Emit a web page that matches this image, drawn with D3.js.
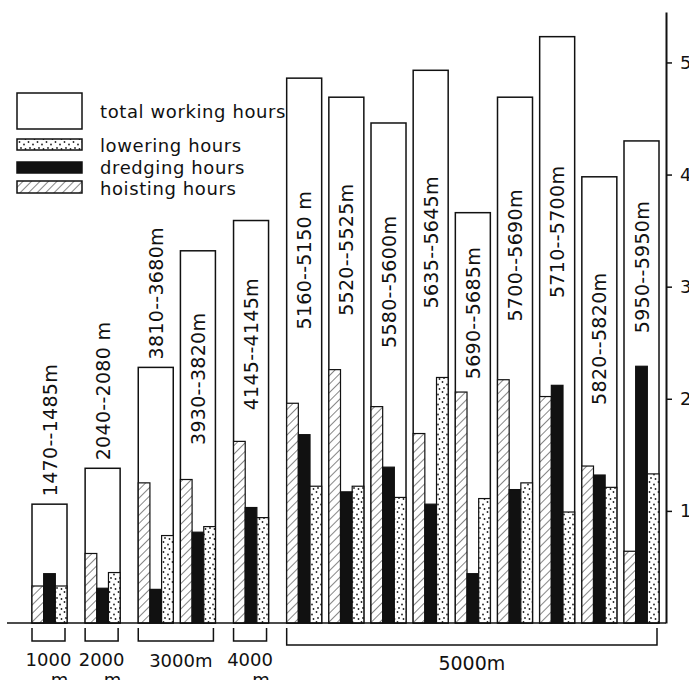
<!DOCTYPE html>
<html>
<head>
<meta charset="utf-8">
<script src="https://cdn.jsdelivr.net/npm/d3@7"></script>
<style>
  body { margin: 0; background: #fff; }
  svg text { font-family: "DejaVu Sans", sans-serif; fill: #111; }
</style>
</head>
<body>
<div id="chart"></div>
<script>
// depth intervals of each trip
const tripLabels = ["1470--1485m", "2040--2080 m", "3810--3680m", "3930--3820m", "4145--4145m",
  "5160--5150 m", "5520--5525m", "5580--5600m", "5635--5645m", "5690--5685m",
  "5700--5690m", "5710--5700m", "5820--5820m", "5950--5950m"];
const depthGroup = [0, 1, 2, 2, 3, 4, 4, 4, 4, 4, 4, 4, 4, 4];
const depthLabels = ["1000", "2000", "3000m", "4000", "5000m"];
const depthUnitBelow = [true, true, false, true, false];

// hours
const totalHours    = [1.06, 1.38, 2.28, 3.32, 3.59, 4.86, 4.69, 4.46, 4.93, 3.66, 4.69, 5.23, 3.98, 4.30];
const hoistingHours = [0.33, 0.62, 1.25, 1.28, 1.62, 1.96, 2.26, 1.93, 1.69, 2.06, 2.17, 2.02, 1.40, 0.64];
const dredgingHours = [0.44, 0.31, 0.30, 0.81, 1.03, 1.68, 1.17, 1.39, 1.06, 0.44, 1.19, 2.12, 1.32, 2.29];
const loweringHours = [0.33, 0.45, 0.78, 0.86, 0.94, 1.22, 1.22, 1.12, 2.19, 1.11, 1.25, 0.99, 1.21, 1.33];
const yTicks = [1, 2, 3, 4, 5];

const W = 689, H = 680;
const svg = d3.select("#chart").append("svg")
  .attr("width", W).attr("height", H);

const defs = svg.append("defs");
// hatch for hoisting
const hatch = defs.append("pattern").attr("id", "hatch")
  .attr("patternUnits", "userSpaceOnUse").attr("width", 6).attr("height", 6)
  .attr("patternTransform", "rotate(45)");
hatch.append("rect").attr("width", 6).attr("height", 6).attr("fill", "#fff");
hatch.append("line").attr("x1", 0).attr("y1", 0).attr("x2", 0).attr("y2", 6)
  .attr("stroke", "#222").attr("stroke-width", 1.1);
// stipple for lowering
const dots = defs.append("pattern").attr("id", "dots")
  .attr("patternUnits", "userSpaceOnUse").attr("width", 9).attr("height", 10);
dots.append("rect").attr("width", 9).attr("height", 10).attr("fill", "#fff");
[[1.5, 2], [6, 4.5], [3, 8], [7.5, 9]].forEach(p => {
  dots.append("circle").attr("cx", p[0]).attr("cy", p[1]).attr("r", 0.9).attr("fill", "#222");
});

// x: bar index plus an extra gap whenever the depth group changes
const gapRatio = 0.26;
const slotPos = depthGroup.map((g, i) => i + g * gapRatio);
const x = d3.scaleLinear()
  .domain([0, slotPos[slotPos.length - 1]])
  .range([32, 624]);
const barW = 35;

const y = d3.scaleLinear().domain([0, 5.45]).range([623, 12]);

const data = tripLabels.map((label, i) => ({
  label, i,
  total: totalHours[i],
  subs: [
    {v: hoistingHours[i], fill: "url(#hatch)"},
    {v: dredgingHours[i], fill: "#111"},
    {v: loweringHours[i], fill: "url(#dots)"}
  ]
}));

// total working hours (outline)
svg.selectAll(".total").data(data).enter().append("rect")
  .attr("x", d => x(slotPos[d.i]))
  .attr("y", d => y(d.total))
  .attr("width", barW)
  .attr("height", d => y(0) - y(d.total))
  .attr("fill", "#fff").attr("stroke", "#111").attr("stroke-width", 1.5);

// hoisting / dredging / lowering
const groups = svg.selectAll(".grp").data(data).enter().append("g");
groups.selectAll("rect").data(d => d.subs.map((s, k) => ({...s, k, i: d.i}))).enter().append("rect")
  .attr("x", s => x(slotPos[s.i]) + s.k * barW / 3)
  .attr("y", s => y(s.v))
  .attr("width", barW / 3)
  .attr("height", s => y(0) - y(s.v))
  .attr("fill", s => s.fill).attr("stroke", "#111").attr("stroke-width", 1.2);

// rotated depth labels: above short bars, inside the empty part of tall ones
svg.selectAll(".lab").data(data).enter().append("text")
  .attr("transform", d => {
    const cx = x(slotPos[d.i]) + barW / 2 + 7;
    if (d.i < 3) {
      return `translate(${cx},${y(d.total) - 8}) rotate(-90)`;
    }
    const maxSub = Math.max(hoistingHours[d.i], dredgingHours[d.i], loweringHours[d.i]);
    const cy = y(maxSub + 0.44 * (d.total - maxSub));
    return `translate(${cx},${cy}) rotate(-90)`;
  })
  .attr("text-anchor", d => d.i < 3 ? "start" : "middle")
  .style("font-size", "19px")
  .style("letter-spacing", "0.3px")
  .text(d => d.label);

// baseline
svg.append("line").attr("x1", 7).attr("x2", 666).attr("y1", y(0)).attr("y2", y(0))
  .attr("stroke", "#111").attr("stroke-width", 1.6);

// right axis
const axis = svg.append("g").attr("transform", "translate(666,0)")
  .call(d3.axisRight(y).tickValues(yTicks).tickSize(6).tickSizeOuter(0).tickPadding(8)
    .tickFormat(d3.format("d")));
axis.select(".domain").attr("stroke", "#111").attr("stroke-width", 2);
axis.selectAll(".tick line").attr("stroke", "#111").attr("stroke-width", 1.5);
axis.selectAll(".tick text").style("font-size", "18px").attr("fill", "#111");

// depth group brackets
depthLabels.forEach((lab, g) => {
  const idx = d3.range(tripLabels.length).filter(i => depthGroup[i] === g);
  const x0 = x(slotPos[idx[0]]);
  const x1 = x(slotPos[idx[idx.length - 1]]) + barW - 2;
  const yb = g === 4 ? 645 : 641;
  svg.append("path")
    .attr("d", `M${x0},628V${yb}H${x1}V628`)
    .attr("fill", "none").attr("stroke", "#111").attr("stroke-width", 1.5);
  const mid = (x0 + x1) / 2;
  if (depthUnitBelow[g]) {
    svg.append("text").attr("x", mid).attr("y", 666).attr("text-anchor", "middle")
      .style("font-size", "18px").text(lab);
    svg.append("text").attr("x", mid + 11).attr("y", 686).attr("text-anchor", "middle")
      .style("font-size", "18px").text("m");
  } else {
    svg.append("text").attr("x", g === 4 ? mid : mid + 5).attr("y", g === 4 ? 670 : 667)
      .attr("text-anchor", "middle").style("font-size", g === 4 ? "19px" : "18px").text(lab);
  }
});

// legend
const legend = [
  {name: "total working hours", y0: 93, h: 36, fill: "#fff", ty: 118},
  {name: "lowering hours", y0: 139, h: 11, fill: "url(#dots)", ty: 152},
  {name: "dredging hours", y0: 162, h: 11, fill: "#111", ty: 174},
  {name: "hoisting hours", y0: 181, h: 12, fill: "url(#hatch)", ty: 195}
];
legend.forEach(l => {
  svg.append("rect").attr("x", 17).attr("y", l.y0).attr("width", 65).attr("height", l.h)
    .attr("fill", l.fill).attr("stroke", "#111").attr("stroke-width", 1.5);
  svg.append("text").attr("x", 100).attr("y", l.ty)
    .style("font-size", "18px").style("letter-spacing", "0.6px").text(l.name);
});
</script>
</body>
</html>
